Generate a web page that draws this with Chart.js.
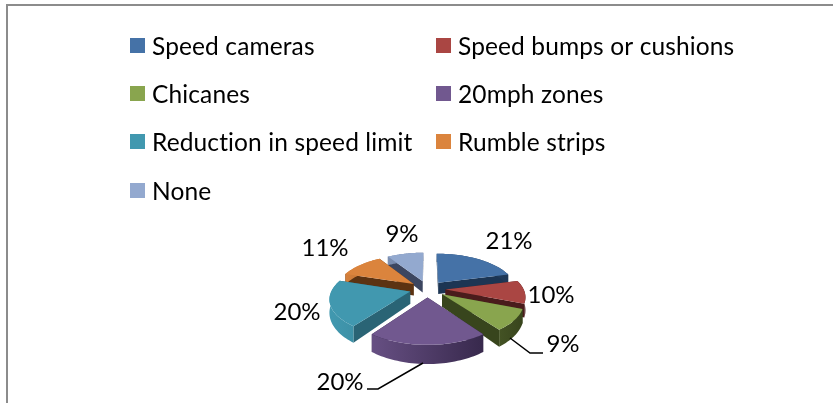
<!DOCTYPE html>
<html>
<head>
<meta charset="utf-8">
<style>
    html, body { margin: 0; padding: 0; background: #fff; }
    #wrap { position: relative; width: 833px; height: 403px; overflow: hidden; }
    #frame { position: absolute; left: 6px; top: 4px; width: 840px; height: 420px; border: 2px solid #8c8c8c; box-sizing: border-box; }
    canvas { position: absolute; left: 0; top: 0; }
</style>
</head>
<body>
<div id="wrap">
    <div id="frame"></div>
    <canvas id="pie" width="833" height="403"></canvas>
</div>
<script src="https://cdn.jsdelivr.net/npm/chart.js@4/dist/chart.umd.min.js"></script>
<script>
// Traffic calming survey pie, drawn as a tilted exploded pie
const categories = ['Speed cameras', 'Speed bumps or cushions', 'Chicanes', '20mph zones', 'Reduction in speed limit', 'Rumble strips', 'None'];
const shares = [21, 10, 9, 20, 20, 11, 9];
const topColors = ['#4572a7', '#aa4643', '#89a54e', '#71588f', '#4198af', '#db843d', '#93a9cf'];
const wallColors = ['#1c3553', '#4a1c1c', '#38451d', '#2d2040', '#2a6475', '#5c3312', '#3c4660'];

const labelFont = '24px Lato, "Open Sans", sans-serif';
const legendFont = '24.5px Lato, "Open Sans", sans-serif';
const legendX = [130, 436];
const legendY = [46, 94, 142, 191];
const labelSpots = [[509, 241], [551, 295], [563, 344], [340, 382], [297, 312], [325, 248], [402, 234]];
const leaderLines = [
    null, null,
    [[510, 338], [530, 353], [543, 353]],
    [[423, 363], [378, 389], [367, 389]],
    null, null, null
];

// tilt and perspective of the pie
const TILT = 0.46;
const PERSP = 0.17;
const DEPTH = 12;

function project(cx, cy, R, dx, dy, lower) {
    const f = 1 / (1 - PERSP * dy / R);
    const drop = lower ? DEPTH * f * f : 0;
    return [cx + dx * f, cy + TILT * dy * f + drop];
}

function drawSlice(ctx, arc, i) {
    const { x, y, startAngle, endAngle, outerRadius } = arc.getProps(['x', 'y', 'startAngle', 'endAngle', 'outerRadius'], true);
    const R = outerRadius;
    const mid = (startAngle + endAngle) / 2;
    const off = arc.options.offset;
    const ax = Math.cos(mid) * off;
    const ay = Math.sin(mid) * off;
    const pt = (a, r, lower) => project(x, y, R, ax + Math.cos(a) * r, ay + Math.sin(a) * r, lower);
    const steps = 40;
    const rim = [];
    for (let s = 0; s <= steps; s++) {
        rim.push(startAngle + (endAngle - startAngle) * s / steps);
    }

    const poly = (points, fill) => {
        ctx.beginPath();
        points.forEach((p, n) => n ? ctx.lineTo(p[0], p[1]) : ctx.moveTo(p[0], p[1]));
        ctx.closePath();
        ctx.fillStyle = fill;
        ctx.fill();
    };

    // radial walls
    poly([pt(startAngle, 0), pt(startAngle, R), pt(startAngle, R, true), pt(startAngle, 0, true)], wallColors[i]);
    poly([pt(endAngle, 0), pt(endAngle, R), pt(endAngle, R, true), pt(endAngle, 0, true)], wallColors[i]);

    // outer wall
    const left = pt(Math.PI, R)[0];
    const right = pt(0, R)[0];
    const shade = ctx.createLinearGradient(left, 0, right, 0);
    shade.addColorStop(0, topColors[i]);
    shade.addColorStop(1, wallColors[i]);
    poly(rim.map(a => pt(a, R)).concat(rim.slice().reverse().map(a => pt(a, R, true))), shade);

    // top face
    poly([pt(startAngle, 0)].concat(rim.map(a => pt(a, R))), arc.options.backgroundColor);
}

const tiltedPie = {
    id: 'tiltedPie',
    beforeDatasetDraw(chart) {
        const ctx = chart.ctx;
        const arcs = chart.getDatasetMeta(0).data;
        const order = arcs.map((arc, i) => i).sort((a, b) => {
            const ma = (arcs[a].startAngle + arcs[a].endAngle) / 2;
            const mb = (arcs[b].startAngle + arcs[b].endAngle) / 2;
            return Math.sin(ma) - Math.sin(mb);
        });
        ctx.save();
        order.forEach(i => drawSlice(ctx, arcs[i], i));
        ctx.restore();
        return false;
    }
};

const sideLabels = {
    id: 'sideLabels',
    afterDraw(chart) {
        const ctx = chart.ctx;
        ctx.save();
        ctx.fillStyle = '#000';
        ctx.textBaseline = 'middle';

        // legend, two columns
        ctx.font = legendFont;
        ctx.letterSpacing = '0.12px';
        categories.forEach((name, i) => {
            const lx = legendX[i % 2];
            const ly = legendY[Math.floor(i / 2)];
            ctx.fillStyle = topColors[i];
            ctx.fillRect(lx, ly - 8, 15, 15);
            ctx.fillStyle = '#000';
            ctx.textAlign = 'left';
            ctx.fillText(name, lx + 22, ly + 1);
        });

        // percentages and leader lines
        ctx.font = labelFont;
        ctx.letterSpacing = '0px';
        ctx.textAlign = 'center';
        shares.forEach((v, i) => {
            ctx.fillText(v + '%', labelSpots[i][0], labelSpots[i][1]);
            const line = leaderLines[i];
            if (line) {
                ctx.beginPath();
                line.forEach((p, n) => n ? ctx.lineTo(p[0], p[1]) : ctx.moveTo(p[0], p[1]));
                ctx.strokeStyle = '#000';
                ctx.lineWidth = 1.5;
                ctx.stroke();
            }
        });
        ctx.restore();
    }
};

new Chart(document.getElementById('pie'), {
    type: 'pie',
    data: {
        labels: categories,
        datasets: [{
            data: shares,
            backgroundColor: topColors,
            borderWidth: 0,
            offset: 18
        }]
    },
    options: {
        responsive: false,
        animation: false,
        layout: { padding: { top: 202, bottom: 27, left: 230, right: 208 } },
        plugins: {
            legend: { display: false },
            tooltip: { enabled: false }
        }
    },
    plugins: [tiltedPie, sideLabels]
});
</script>
</body>
</html>
